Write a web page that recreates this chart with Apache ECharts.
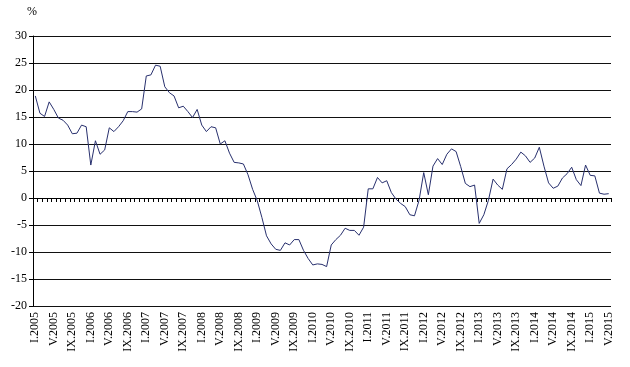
<!DOCTYPE html>
<html>
<head>
<meta charset="utf-8">
<script src="https://cdn.jsdelivr.net/npm/echarts@6/dist/echarts.min.js"></script>
<style>html,body{margin:0;padding:0;background:#fff}#c{width:630px;height:367px}</style>
</head>
<body>
<div id="c"></div>
<script>
// Month labels (roman numerals) Jan 2005 – May 2015
const romanMonths = ['I','II','III','IV','V','VI','VII','VIII','IX','X','XI','XII'];
const startYear = 2005;
const monthCount = 125;
const categories = [];
for (let k = 0; k < monthCount; k++) {
  categories.push(romanMonths[k % 12] + '.' + (startYear + Math.floor(k / 12)));
}

// Year-on-year change, %
const values = [
  18.9, 15.7, 15.1, 17.8, 16.4, 14.8, 14.4, 13.5, 11.9, 12.0, 13.5, 13.2,
  6.1, 10.6, 8.1, 8.9, 13.0, 12.3, 13.2, 14.3, 16.0, 16.0, 15.9, 16.5,
  22.6, 22.8, 24.6, 24.4, 20.6, 19.5, 18.9, 16.7, 17.0, 16.0, 14.9, 16.4,
  13.5, 12.3, 13.2, 13.0, 10.0, 10.6, 8.3, 6.6, 6.5, 6.3, 4.3, 1.6,
  -0.5, -3.6, -7.0, -8.5, -9.5, -9.7, -8.3, -8.7, -7.7, -7.7, -9.7, -11.2,
  -12.4, -12.2, -12.3, -12.7, -8.7, -7.7, -6.9, -5.6, -6.0, -6.0, -6.9, -5.4,
  1.7, 1.7, 3.8, 2.8, 3.2, 1.0, -0.2, -1.0, -1.6, -3.1, -3.3, -0.4,
  4.7, 0.6, 5.9, 7.3, 6.2, 8.1, 9.1, 8.6, 5.8, 2.7, 2.1, 2.4,
  -4.7, -3.1, -0.4, 3.5, 2.4, 1.6, 5.4, 6.2, 7.2, 8.5, 7.8, 6.6,
  7.4, 9.4, 5.9, 2.8, 1.8, 2.2, 3.7, 4.5, 5.7, 3.4, 2.3, 6.1,
  4.2, 4.1, 0.9, 0.7, 0.8
];

const yMin = -20, yMax = 30, yStep = 5;
const font = '"Liberation Serif", "Times New Roman", serif';

const chart = echarts.init(document.getElementById('c'), null, {renderer: 'canvas'});
chart.setOption({
  animation: false,
  backgroundColor: '#fff',
  title: {
    text: '%', left: 22, top: 1,
    textStyle: {fontFamily: font, fontSize: 12, fontWeight: 'normal', color: '#000'}
  },
  grid: {left: 33, right: 19, top: 36, bottom: 61, containLabel: false},
  xAxis: {
    type: 'category',
    data: categories,
    boundaryGap: true,
    axisLine: {show: true, lineStyle: {color: '#000', width: 1}},
    axisTick: {show: true, interval: 0, length: 4, lineStyle: {color: '#000'}},
    axisLabel: {
      interval: 3, rotate: 90, margin: 6,
      fontFamily: font, fontSize: 12, color: '#000'
    },
    splitLine: {show: false}
  },
  yAxis: {
    type: 'value',
    min: yMin, max: yMax, interval: yStep,
    axisLine: {show: true, lineStyle: {color: '#000', width: 1}},
    axisTick: {show: true, length: 4, inside: false, lineStyle: {color: '#000'}},
    axisLabel: {fontFamily: font, fontSize: 12, color: '#000', margin: 6},
    splitLine: {show: true, lineStyle: {color: '#111', width: 1}}
  },
  series: [{
    type: 'line',
    data: values,
    symbol: 'none',
    smooth: false,
    lineStyle: {color: '#28306e', width: 1}
  }]
});
</script>
</body>
</html>
